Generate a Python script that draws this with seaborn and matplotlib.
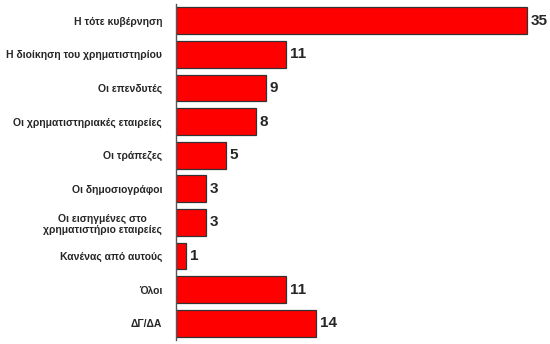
import matplotlib
matplotlib.use("Agg")
import matplotlib.pyplot as plt
import seaborn as sns
import pandas as pd
from matplotlib.ticker import FixedLocator

categories = [
    "Η τότε κυβέρνηση",
    "Η διοίκηση του χρηματιστηρίου",
    "Οι επενδυτές",
    "Οι χρηματιστηριακές εταιρείες",
    "Οι τράπεζες",
    "Οι δημοσιογράφοι",
    "Οι εισηγμένες στο\nχρηματιστήριο εταιρείες",
    "Κανένας από αυτούς",
    "Όλοι",
    "ΔΓ/ΔΑ",
]
values = [35, 11, 9, 8, 5, 3, 3, 1, 11, 14]

df = pd.DataFrame({"cat": categories, "val": values})

sns.set_style("white")
plt.rcParams["font.family"] = ["Liberation Sans", "DejaVu Sans"]

fig = plt.figure(figsize=(5.5, 3.44), dpi=100)
ax = fig.add_axes([176 / 550, 4 / 344, 1 - 176 / 550 - 0.002, 1 - 8 / 344])

sns.barplot(data=df, y="cat", x="val", orient="h", color="#FF0000",
            saturation=1, edgecolor="#333333", linewidth=0.9, width=0.8, ax=ax)

ax.set_xlim(0, 37.2)
ax.set_ylim(len(categories) - 0.5, -0.5)
ax.set_xlabel("")
ax.set_ylabel("")
ax.set_xticks([])
for s in ["top", "right", "bottom"]:
    ax.spines[s].set_visible(False)
ax.spines["left"].set_color("#555555")
ax.spines["left"].set_linewidth(1)

ax.yaxis.set_minor_locator(FixedLocator([i - 0.5 for i in range(len(categories) + 1)]))
ax.tick_params(axis="y", which="major", length=0, pad=10)
ax.tick_params(axis="y", which="minor", length=4, width=1, color="#555555", direction="out")
for lbl in ax.get_yticklabels():
    lbl.set_fontsize(7.5)
    lbl.set_fontweight("bold")
    lbl.set_horizontalalignment("right")
    lbl.set_multialignment("center")

for i, v in enumerate(values):
    ax.text(v + 0.35, i, str(v), va="center", ha="left", fontsize=11,
            fontweight="bold", family=["Liberation Sans Narrow", "Liberation Sans", "DejaVu Sans"])

fig.savefig("out.png", dpi=100)
